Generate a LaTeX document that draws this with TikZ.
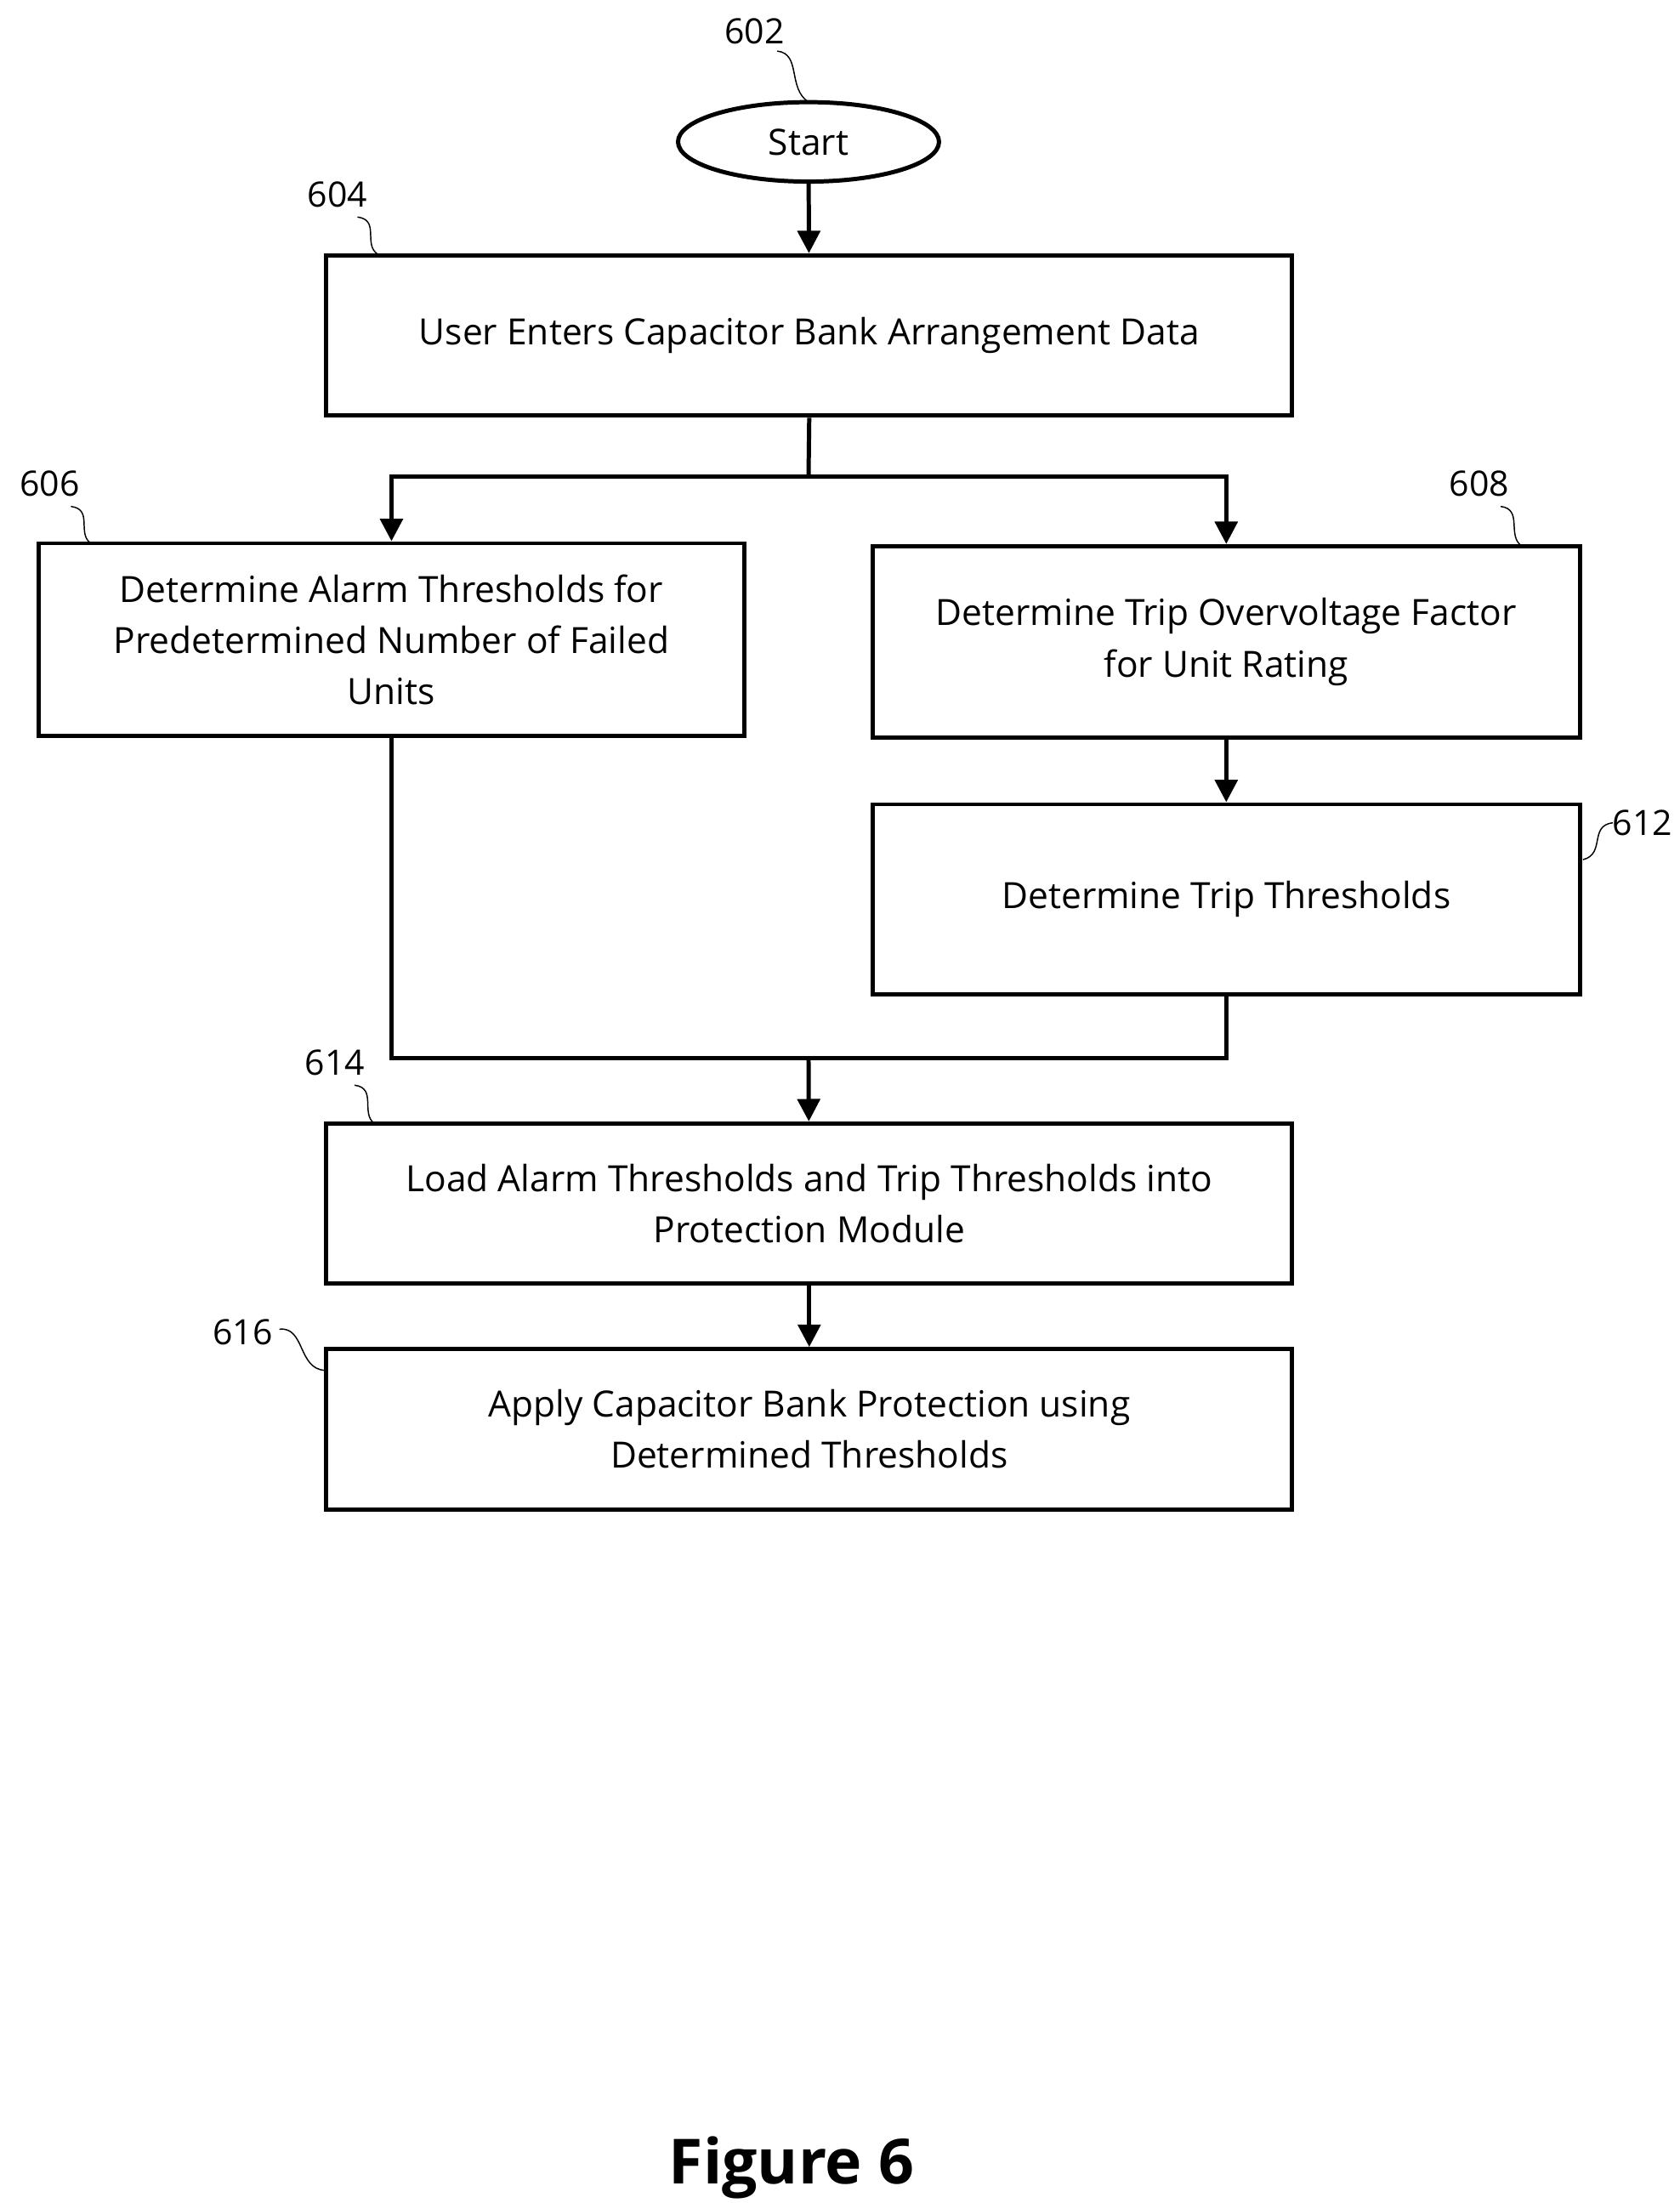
\documentclass[tikz,border=0pt]{standalone}
\usepackage{fontspec}
\setmainfont{Open Sans}
\usetikzlibrary{shapes.geometric,arrows.meta}
\begin{document}
\begin{tikzpicture}[x=0.02cm,y=-0.02cm,
  box/.style={draw,line width=1.7pt,align=center,font=\fontsize{14.5}{20.5}\selectfont,inner sep=0pt},
  arr/.style={line width=1.7pt,-{Triangle[length=9pt,width=9pt]}},
  ln/.style={line width=1.7pt},
  lab/.style={font=\fontsize{14}{17}\selectfont},
  sq/.style={line width=0.5pt}]
\useasboundingbox (0,0) rectangle (1184,1553);
\node[box,ellipse,minimum width=184*0.02cm,minimum height=56*0.02cm] (s) at (570,100) {Start};
\node[box,minimum width=681*0.02cm,minimum height=113*0.02cm] (b604) at (570.5,236.5) {User Enters Capacitor Bank Arrangement Data};
\node[box,minimum width=498*0.02cm,minimum height=136*0.02cm] (b606) at (276,451) {Determine Alarm Thresholds for\\Predetermined Number of Failed\\Units};
\node[box,minimum width=499*0.02cm,minimum height=135*0.02cm] (b608) at (864.5,452.5) {Determine Trip Overvoltage Factor\\for Unit Rating};
\node[box,minimum width=499*0.02cm,minimum height=134*0.02cm] (b612) at (864.5,634) {Determine Trip Thresholds};
\node[box,minimum width=681*0.02cm,minimum height=113*0.02cm] (b614) at (570.5,848.5) {Load Alarm Thresholds and Trip Thresholds into\\Protection Module};
\node[box,minimum width=681*0.02cm,minimum height=113*0.02cm] (b616) at (570.5,1007.5) {Apply Capacitor Bank Protection using\\Determined Thresholds};
\coordinate (j1) at (570,336);
\coordinate (j2) at (570,746);
\draw[arr] (s) -- (b604);
\draw[ln] (b604.south) -- (j1);
\draw[arr] (j1) -| (b606.north);
\draw[arr] (j1) -| (b608.north);
\draw[arr] (b608) -- (b612);
\draw[ln] (b606.south) |- (j2);
\draw[ln] (b612.south) |- (j2);
\draw[arr] (j2) -- (b614);
\draw[arr] (b614) -- (b616);
\node[lab] (l602) at (532,22) {602};
\node[lab] (l604) at (238,137) {604};
\node[lab] (l606) at (35,341) {606};
\node[lab] (l608) at (1043,341) {608};
\node[lab] (l612) at (1158,580) {612};
\node[lab] (l614) at (236,749) {614};
\node[lab] (l616) at (171,939) {616};
\draw[sq] (548,36) .. controls (565,38) and (555,62) .. (570,72);
\draw[sq] (252,153) .. controls (268,155) and (256,172) .. (266,179);
\draw[sq] (50,357) .. controls (66,359) and (54,376) .. (64,383);
\draw[sq] (1058,357) .. controls (1074,359) and (1062,378) .. (1073,385);
\draw[sq] (1137,580) .. controls (1120,582) and (1132,602) .. (1116,606);
\draw[sq] (250,765) .. controls (266,767) and (254,785) .. (264,792);
\draw[sq] (197,937) .. controls (215,935) and (210,965) .. (229,966);
\node[font=\bfseries\fontsize{25}{30}\selectfont] (fig) at (558,1528) {Figure 6};
\end{tikzpicture}
\end{document}
